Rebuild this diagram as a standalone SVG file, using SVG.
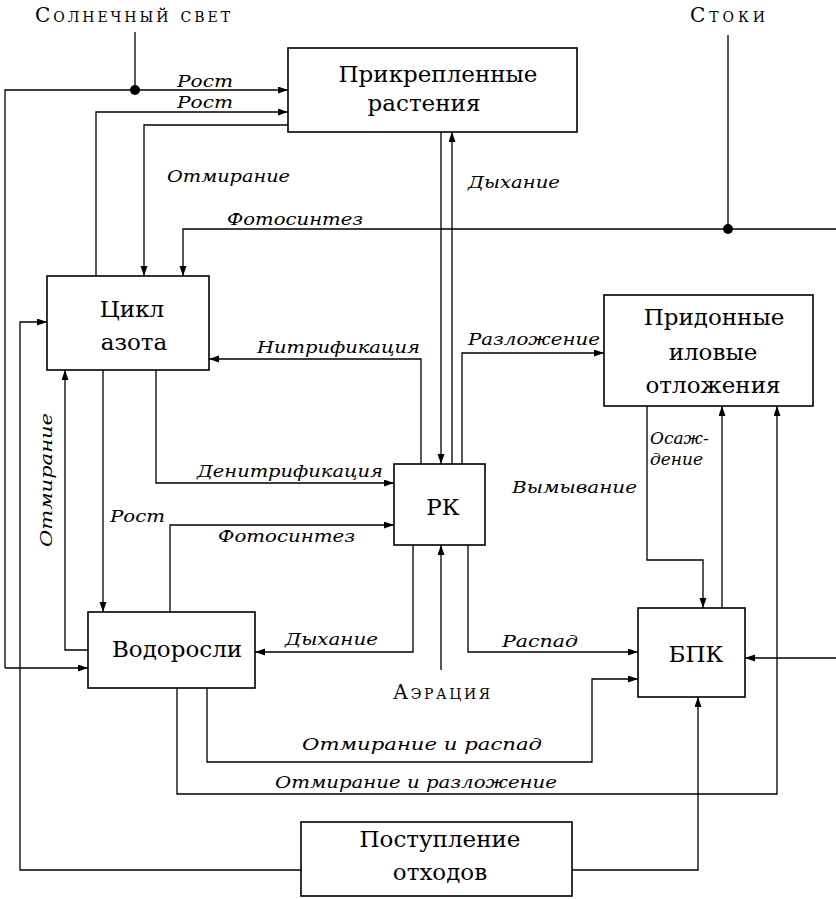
<svg xmlns="http://www.w3.org/2000/svg" width="836" height="899" viewBox="0 0 836 899">
<style>
.box{fill:#fff;stroke:#000;stroke-width:1.6}
.ln{fill:none;stroke:#000;stroke-width:1.3}
.ar{marker-end:url(#ah)}
text{font-family:'DejaVu Serif','Liberation Serif',serif;fill:#000}
.nt{font-size:23px}
.et{font-style:italic;font-size:17px}
.sc{font-variant:small-caps;font-size:20px}
</style>
<defs>
<marker id="ah" markerUnits="userSpaceOnUse" markerWidth="10" markerHeight="8" refX="10" refY="3.5" orient="auto">
<path d="M0,0 L10,3.5 L0,7 z" fill="#000"/>
</marker>
</defs>
<rect width="836" height="899" fill="#fff"/>
<g id="connectors">
<path class="ln" d="M135,32 V90"/>
<path class="ln ar" d="M5,668 V90 H288"/>
<path class="ln ar" d="M5,668 H88"/>
<circle cx="135" cy="90" r="5" fill="#000"/>
<path class="ln ar" d="M96,276 V112 H288"/>
<path class="ln ar" d="M288,125 H144 V276"/>
<path class="ln ar" d="M836,229 H183 V276"/>
<path class="ln" d="M728,35 V229"/>
<circle cx="728" cy="229" r="5" fill="#000"/>
<path class="ln ar" d="M441,132 V464"/>
<path class="ln ar" d="M452,464 V132"/>
<path class="ln ar" d="M421,464 V359 H209"/>
<path class="ln ar" d="M462,464 V353 H604"/>
<path class="ln ar" d="M156,370 V483 H394"/>
<path class="ln ar" d="M170,612 V525 H394"/>
<path class="ln ar" d="M103,370 V612"/>
<path class="ln ar" d="M88,650 H65 V370"/>
<path class="ln ar" d="M301,870 H20 V322 H47"/>
<path class="ln ar" d="M413,545 V652 H255"/>
<path class="ln ar" d="M441,670 V545"/>
<path class="ln ar" d="M468,545 V652 H638"/>
<path class="ln ar" d="M207,688 V762 H592 V679 H638"/>
<path class="ln ar" d="M177,688 V794 H777 V406"/>
<path class="ln ar" d="M722,608 V406"/>
<path class="ln ar" d="M647,406 V560 H703 V608"/>
<path class="ln ar" d="M572,870 H698 V697"/>
<path class="ln ar" d="M836,658 H745"/>
</g>
<g id="labels">
<text class="sc" x="35" y="22" textLength="195" lengthAdjust="spacing">Солнечный свет</text>
<text class="sc" x="690" y="22" textLength="75" lengthAdjust="spacing">Стоки</text>
<text class="sc" x="393" y="699" textLength="97" lengthAdjust="spacing">Аэрация</text>
<text class="et" x="177" y="87" textLength="56" lengthAdjust="spacingAndGlyphs">Рост</text>
<text class="et" x="177" y="108" textLength="56" lengthAdjust="spacingAndGlyphs">Рост</text>
<text class="et" x="167" y="182" textLength="123" lengthAdjust="spacingAndGlyphs">Отмирание</text>
<text class="et" x="227" y="225" textLength="136" lengthAdjust="spacingAndGlyphs">Фотосинтез</text>
<text class="et" x="468" y="188" textLength="92" lengthAdjust="spacingAndGlyphs">Дыхание</text>
<text class="et" x="257" y="353" textLength="163" lengthAdjust="spacingAndGlyphs">Нитрификация</text>
<text class="et" x="468" y="345" textLength="132" lengthAdjust="spacingAndGlyphs">Разложение</text>
<text class="et" x="197" y="477" textLength="186" lengthAdjust="spacingAndGlyphs">Денитрификация</text>
<text class="et" x="110" y="522" textLength="55" lengthAdjust="spacingAndGlyphs">Рост</text>
<text class="et" x="218" y="542" textLength="137" lengthAdjust="spacingAndGlyphs">Фотосинтез</text>
<text class="et" font-size="19" transform="translate(52,480) rotate(-90)" text-anchor="middle" textLength="134" lengthAdjust="spacingAndGlyphs">Отмирание</text>
<text class="et" x="285" y="645" textLength="93" lengthAdjust="spacingAndGlyphs">Дыхание</text>
<text class="et" x="502" y="647" textLength="76" lengthAdjust="spacingAndGlyphs">Распад</text>
<text class="et" x="512" y="493" textLength="125" lengthAdjust="spacingAndGlyphs">Вымывание</text>
<text class="et" x="650" y="444" font-size="15">Осаж-</text>
<text class="et" x="650" y="465" font-size="15">дение</text>
<text class="et" x="302" y="750" textLength="240" lengthAdjust="spacingAndGlyphs">Отмирание и распад</text>
<text class="et" x="275" y="788" textLength="282" lengthAdjust="spacingAndGlyphs">Отмирание и разложение</text>
</g>
<g id="node-attached">
<rect class="box" x="288" y="48" width="289" height="84"/>
<text class="nt" x="438" y="82" text-anchor="middle">Прикрепленные</text>
<text class="nt" x="424" y="111" text-anchor="middle">растения</text>
</g>
<g id="node-nitrogen">
<rect class="box" x="47" y="276" width="162" height="94"/>
<text class="nt" x="132" y="317" text-anchor="middle">Цикл</text>
<text class="nt" x="134" y="350" text-anchor="middle">азота</text>
</g>
<g id="node-sediments">
<rect class="box" x="604" y="295" width="209" height="111"/>
<text class="nt" x="714" y="325" text-anchor="middle">Придонные</text>
<text class="nt" x="713" y="360" text-anchor="middle">иловые</text>
<text class="nt" x="713" y="393" text-anchor="middle">отложения</text>
</g>
<g id="node-rk">
<rect class="box" x="394" y="464" width="91" height="81"/>
<text class="nt" x="443" y="515" text-anchor="middle">РК</text>
</g>
<g id="node-algae">
<rect class="box" x="88" y="612" width="167" height="76"/>
<text class="nt" x="177" y="657" text-anchor="middle">Водоросли</text>
</g>
<g id="node-bpk">
<rect class="box" x="638" y="608" width="107" height="89"/>
<text class="nt" x="696" y="662" text-anchor="middle">БПК</text>
</g>
<g id="node-waste">
<rect class="box" x="301" y="822" width="271" height="74"/>
<text class="nt" x="440" y="847" text-anchor="middle">Поступление</text>
<text class="nt" x="440" y="880" text-anchor="middle">отходов</text>
</g>
</svg>
